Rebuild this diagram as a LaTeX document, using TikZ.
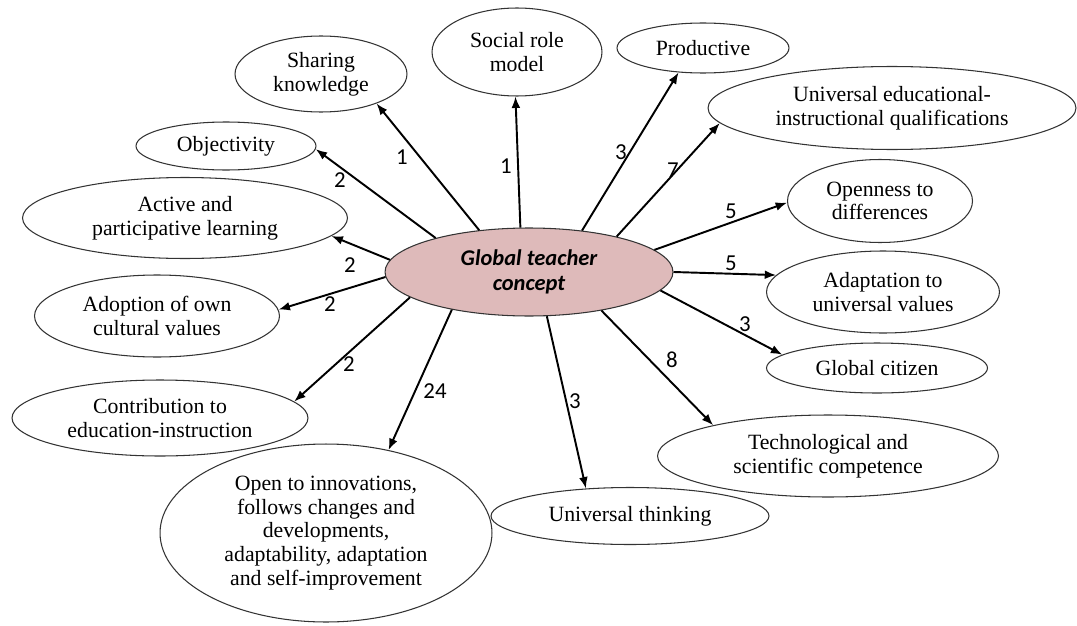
\documentclass[tikz,border=0pt]{standalone}
\usepackage{fontspec}
\setmainfont{Liberation Serif}
\newfontfamily\calib{Carlito}
\usetikzlibrary{arrows.meta,shapes.geometric}
\definecolor{hubpink}{RGB}{222,186,186}

\begin{document}
\begin{tikzpicture}[
  x=0.02cm, y=-0.02cm,
  >=Latex,
  bubble/.style={ellipse, draw=black!80, line width=0.6pt, inner sep=0pt, align=center, font=\fontsize{12.4}{13.5}\selectfont},
  hub/.style={ellipse, draw=black!80, line width=0.6pt, fill=hubpink, inner sep=0pt, align=center, font=\calib\bfseries\itshape\fontsize{12.8}{14.2}\selectfont},
  line/.style={draw, line width=1.1pt, -{Latex[length=6.5pt,width=5pt]}},
  num/.style={font=\calib\fontsize{13}{15}\selectfont, inner sep=0pt}
]
\useasboundingbox[fill=white] (0,0) rectangle (1077,625);

\node[hub, minimum width=5.76cm, minimum height=1.76cm] (c) at (529,272) {Global teacher\\concept};

\node[bubble, minimum width=3.44cm, minimum height=1.52cm] (sk) at (321,74) {Sharing\\knowledge};
\node[bubble, minimum width=3.40cm, minimum height=1.76cm] (srm) at (517,52) {Social role\\model};
\node[bubble, minimum width=3.44cm, minimum height=1.00cm] (prod) at (703,48) {Productive};
\node[bubble, minimum width=7.36cm, minimum height=1.66cm] (ueq) at (892,108) {Universal educational-\\instructional qualifications};
\node[bubble, minimum width=3.70cm, minimum height=1.66cm] (open) at (880,201) {Openness to\\differences};
\node[bubble, minimum width=4.66cm, minimum height=1.64cm] (adapt) at (883,292) {Adaptation to\\universal values};
\node[bubble, minimum width=4.42cm, minimum height=1.00cm] (gc) at (877,368) {Global citizen};
\node[bubble, minimum width=6.82cm, minimum height=1.64cm] (tech) at (828,456) {Technological and\\scientific competence};
\node[bubble, minimum width=5.56cm, minimum height=1.14cm] (ut) at (630,516) {Universal thinking};
\node[bubble, minimum width=6.64cm, minimum height=3.56cm] (innov) at (326,533) {Open to innovations,\\follows changes and\\developments,\\adaptability, adaptation\\and self-improvement};
\node[bubble, minimum width=5.92cm, minimum height=1.52cm] (contrib) at (160,418) {Contribution to\\education-instruction};
\node[bubble, minimum width=4.90cm, minimum height=1.64cm] (adopt) at (157,316) {Adoption of own\\cultural values};
\node[bubble, minimum width=6.50cm, minimum height=1.62cm] (active) at (185,218) {Active and\\participative learning};
\node[bubble, minimum width=3.60cm, minimum height=0.96cm] (obj) at (226,146) {Objectivity};

\path[line] (c.140) -- (sk.-28) node[num] at (402,157) {1};
\path[line] (c.101) -- (srm.268) node[num] at (506,166) {1};
\path[line] (c.38) -- (prod.225) node[num] at (621,152) {3};
\path[line] (c.22) -- (ueq.185) node[num] at (673,170) {7};
\path[line] (c.10) -- (open.181) node[num] at (731,211) {5};
\path[line] (c.0) -- (adapt.171) node[num] at (731,263) {5};
\path[line] (c.-8) -- (gc.172) node[num] at (745,324) {3};
\path[line] (c.-28) -- (tech.165) node[num] at (672,360) {8};
\path[line] (c.-68) -- (ut.148) node[num] at (575,401) {3};
\path[line] (c.206) -- (innov.53) node[num] at (435,391) {24};
\path[line] (c.192) -- (contrib.7) node[num] at (349,364) {2};
\path[line] (c.182) -- (adopt.3) node[num] at (330,304) {2};
\path[line] (c.175) -- (active.-7) node[num] at (350,265) {2};
\path[line] (c.160) -- (obj.-2) node[num] at (340,180) {2};

\end{tikzpicture}
\end{document}
